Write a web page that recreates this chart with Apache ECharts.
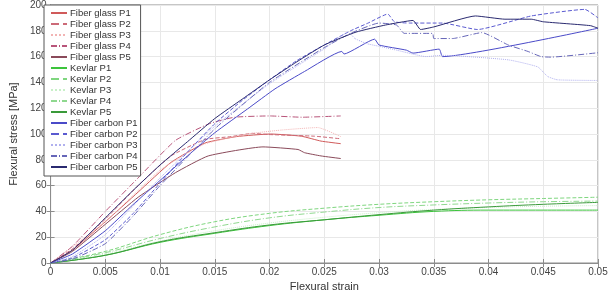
<!DOCTYPE html>
<html>
<head>
<meta charset="utf-8">
<script src="https://cdn.jsdelivr.net/npm/echarts@6/dist/echarts.min.js"></script>
<style>html,body{margin:0;padding:0;background:#fff;}#c{width:613px;height:299px;}</style>
</head>
<body>
<div id="c"></div>
<script>
// ---- Data: [flexural strain, flexural stress MPa] ----
var glassP1 = [[0,0],[0.002,10],[0.005,32],[0.008,55],[0.011,78],[0.0141,93],[0.017,98],[0.0201,100],[0.0229,98.3],[0.0247,94.5],[0.0265,92.5]];
var glassP2 = [[0,0],[0.002,11],[0.005,34],[0.008,60],[0.011,83],[0.0141,95.7],[0.0165,98],[0.0184,100.5],[0.0199,99.6],[0.0241,98.3],[0.0265,96.3]];
var glassP3 = [[0,0],[0.005,32],[0.01,72],[0.014,92],[0.018,100],[0.021,103],[0.0244,105],[0.0265,98]];
var glassP4 = [[0,0],[0.002,13],[0.005,40],[0.008,66],[0.0114,95],[0.0145,108],[0.0168,113],[0.02,114],[0.023,113],[0.0265,114]];
var glassP5 = [[0,0],[0.002,9],[0.005,30],[0.008,51],[0.0114,70],[0.0144,83],[0.0194,90],[0.0226,88],[0.0232,85.5],[0.0247,83],[0.0265,81]];

var kevlarP1 = [[0,0],[0.005,6],[0.01,16],[0.015,23],[0.02,29],[0.025,33.5],[0.03,37],[0.035,40],[0.04,41],[0.045,41],[0.05,41]];
var kevlarP2 = [[0,0],[0.005,9],[0.01,22],[0.015,32],[0.02,38.5],[0.025,42.5],[0.03,45.5],[0.035,47.5],[0.04,49],[0.045,50],[0.05,51]];
var kevlarP3 = [[0,0],[0.005,7],[0.01,17],[0.015,25],[0.02,31],[0.025,35.5],[0.03,39],[0.035,41.5],[0.04,43],[0.045,44],[0.05,44.5]];
var kevlarP4 = [[0,0],[0.005,8],[0.01,19],[0.015,28],[0.02,35],[0.025,39.5],[0.03,43],[0.035,45],[0.04,46.5],[0.045,47.5],[0.05,48]];
var kevlarP5 = [[0,0],[0.005,6],[0.01,16.5],[0.015,23.5],[0.02,29.5],[0.025,33.5],[0.03,37.5],[0.035,41],[0.04,43.5],[0.045,45.5],[0.05,47]];

var carbonP1 = [[0,0],[0.002,7],[0.005,25],[0.0075,45],[0.01,64],[0.0125,83],[0.015,101],[0.018,119.5],[0.0205,135],[0.0232,148.5],[0.0266,164],[0.0268,162],[0.0296,173.5],[0.03,169],[0.0325,165],[0.0331,162.7],[0.0355,165.8],[0.0358,160],[0.05,182]];
var carbonP2 = [[0,0],[0.002,4],[0.005,18],[0.0075,38],[0.01,62],[0.0125,86],[0.015,108],[0.0175,126],[0.02,142],[0.0225,157],[0.025,169],[0.0274,180],[0.029,186],[0.0308,193],[0.0314,187],[0.0328,186],[0.0358,186],[0.039,181],[0.0439,191.5],[0.0488,196.6],[0.05,190]];
var carbonP3 = [[0,0],[0.002,5],[0.005,22],[0.01,66],[0.015,106],[0.02,139],[0.025,166],[0.0272,179],[0.0278,174],[0.0289,170],[0.03,168],[0.0316,165],[0.0343,160],[0.0358,161],[0.0418,157.5],[0.0445,152],[0.0454,144.6],[0.0463,142],[0.05,141.5]];
var carbonP4 = [[0,0],[0.002,3],[0.005,15],[0.0075,36],[0.01,60],[0.015,104],[0.02,140],[0.025,167],[0.0274,178],[0.03,186],[0.0316,184.5],[0.0323,178],[0.0349,178],[0.035,174],[0.0367,174],[0.0394,178.6],[0.0418,169],[0.0436,164],[0.0448,160],[0.0457,159.6],[0.05,163]];
var carbonP5 = [[0,0],[0.002,10],[0.005,35],[0.0075,56],[0.01,76],[0.0125,94],[0.015,112],[0.0175,127],[0.02,142],[0.0225,156],[0.025,169],[0.0279,179],[0.0306,184.5],[0.0331,188],[0.0338,181],[0.035,183],[0.0388,191.5],[0.0415,189],[0.0439,189],[0.045,187],[0.0493,184],[0.05,182]];

var seriesNames = ['Fiber glass P1','Fiber glass P2','Fiber glass P3','Fiber glass P4','Fiber glass P5',
  'Kevlar P1','Kevlar P2','Kevlar P3','Kevlar P4','Kevlar P5',
  'Fiber carbon P1','Fiber carbon P2','Fiber carbon P3','Fiber carbon P4','Fiber carbon P5'];
var seriesData = [glassP1,glassP2,glassP3,glassP4,glassP5,kevlarP1,kevlarP2,kevlarP3,kevlarP4,kevlarP5,carbonP1,carbonP2,carbonP3,carbonP4,carbonP5];
var seriesColors = ['#d05a5a','#cc6a78','#f2b4b4','#b8557a','#8a4a5a',
  '#3cc43c','#7fd67f','#c8f0c8','#8fd88f','#3a9a3a',
  '#4a4ac8','#5a5ad0','#b0b0ee','#6666b8','#2a2a70'];
var dashTypes = ['solid','dashed','dotted',[6,2,1,2],'solid'];
var xTicks = {min:0, max:0.05, interval:0.005};
var yTicks = {min:0, max:200, interval:20};

var series = seriesData.map(function(d,i){
  return {
    name: seriesNames[i], type:'line', data:d, showSymbol:false, symbol:'none',
    smooth: (i>=5 && i<10) ? 0.4 : 0.15,
    lineStyle:{color:seriesColors[i], width:1, type:dashTypes[i%5]},
    itemStyle:{color:seriesColors[i]},
    z: 2, animation:false
  };
});

var chart = echarts.init(document.getElementById('c'), null, {renderer:'canvas'});
var axColor = '#8c8c8c';
chart.setOption({
  animation:false,
  grid:{left:44, right:15, top:5, bottom:36, show:true, borderColor:axColor, borderWidth:1, backgroundColor:'#fff'},
  legend:{
    orient:'vertical', left:44, top:5, data:seriesNames,
    backgroundColor:'#fff', borderColor:'#555', borderWidth:1,
    padding:[3,3,4,6], itemWidth:16, itemHeight:10, itemGap:1,
    itemStyle:{opacity:0},
    textStyle:{fontSize:9.5, color:'#333', fontFamily:'Liberation Sans, Arial', padding:[0,0,0,-2]}
  },
  xAxis:[{
    type:'value', min:xTicks.min, max:xTicks.max, interval:xTicks.interval,
    name:'Flexural strain', nameLocation:'middle', nameGap:18,
    nameTextStyle:{fontSize:11, color:'#333', fontFamily:'Liberation Sans, Arial'},
    axisLine:{show:true, lineStyle:{color:axColor}},
    axisTick:{show:true, inside:true, length:4, lineStyle:{color:axColor}},
    axisLabel:{fontSize:10, color:'#444', margin:4, fontFamily:'Liberation Sans, Arial',
      formatter:function(v){return String(+v.toFixed(3));}},
    splitLine:{show:true, lineStyle:{color:'#e8e8e8'}}
  },{
    type:'value', position:'top', min:xTicks.min, max:xTicks.max, interval:xTicks.interval,
    axisLine:{show:true, lineStyle:{color:axColor}},
    axisTick:{show:true, inside:true, length:4, lineStyle:{color:axColor}},
    axisLabel:{show:false}, splitLine:{show:false}
  }],
  yAxis:[{
    type:'value', min:yTicks.min, max:yTicks.max, interval:yTicks.interval,
    name:'Flexural stress [MPa]', nameLocation:'middle', nameGap:28,
    nameTextStyle:{fontSize:11, color:'#333', fontFamily:'Liberation Sans, Arial'},
    axisLine:{show:true, lineStyle:{color:axColor}},
    axisTick:{show:true, inside:true, length:4, lineStyle:{color:axColor}},
    axisLabel:{fontSize:10, color:'#444', margin:4, fontFamily:'Liberation Sans, Arial'},
    splitLine:{show:true, lineStyle:{color:'#e8e8e8'}}
  },{
    type:'value', position:'right', min:yTicks.min, max:yTicks.max, interval:yTicks.interval,
    axisLine:{show:true, lineStyle:{color:axColor}},
    axisTick:{show:true, inside:true, length:4, lineStyle:{color:axColor}},
    axisLabel:{show:false}, splitLine:{show:false}
  }],
  series: series
});
</script>
</body>
</html>
